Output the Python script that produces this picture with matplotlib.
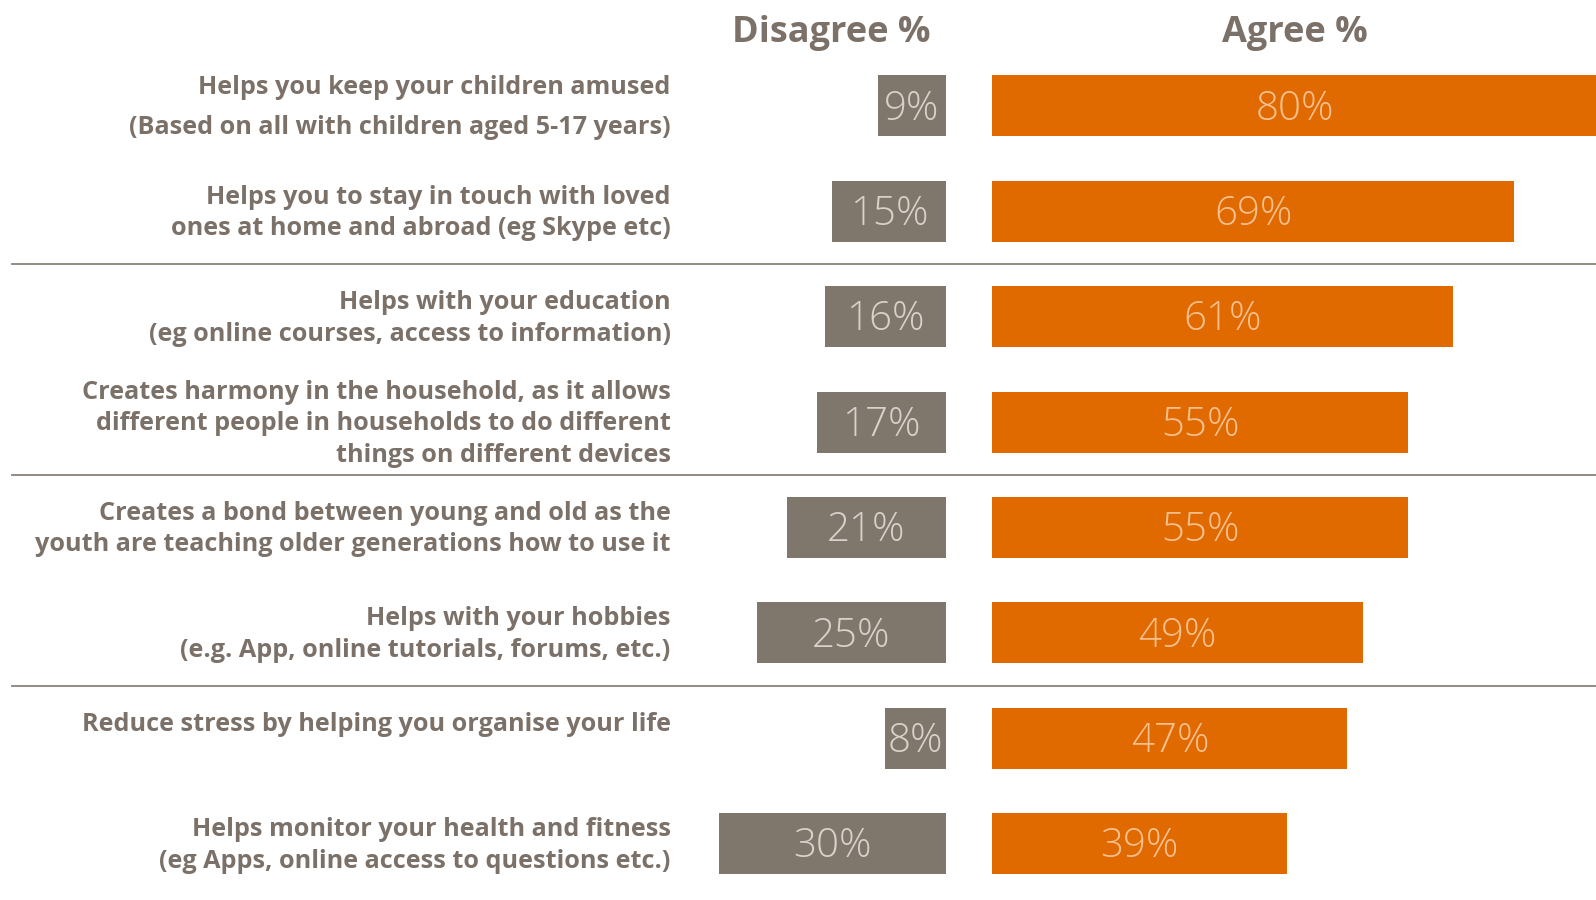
import matplotlib.pyplot as plt

# --- Survey data: share of respondents who disagree / agree ---
statements = [
    "Helps you keep your children amused\n(Based on all with children aged 5-17 years)",
    "Helps you to stay in touch with loved\nones at home and abroad (eg Skype etc)",
    "Helps with your education\n(eg online courses, access to information)",
    "Creates harmony in the household, as it allows\ndifferent people in households to do different\nthings on different devices",
    "Creates a bond between young and old as the\nyouth are teaching older generations how to use it",
    "Helps with your hobbies\n(e.g. App, online tutorials, forums, etc.)",
    "Reduce stress by helping you organise your life\n ",
    "Helps monitor your health and fitness\n(eg Apps, online access to questions etc.)",
]
disagree = [9, 15, 16, 17, 21, 25, 8, 30]
agree = [80, 69, 61, 55, 55, 49, 47, 39]

GREY = "#7f766c"
ORANGE = "#e06900"
TEXT = "#7b7168"
GAP = 6.2  # space between the two bar groups, in % units

plt.rcParams['font.family'] = ['Open Sans', 'DejaVu Sans']

fig = plt.figure(figsize=(15.96, 9), dpi=100)
ax = fig.add_axes([0, 0, 1, 1])
ax.set_xlim(-125.2, 86.1)
ax.set_ylim(7.534, -1.005)
ax.axis('off')

rows = list(range(len(statements)))
ax.barh(rows, [-d for d in disagree], height=0.58, color=GREY)
ax.barh(rows, agree, left=GAP, height=0.58, color=ORANGE)

for i, (d, a) in enumerate(zip(disagree, agree)):
    ax.text(-d / 2, i + 0.03, f"{d}%", ha='center', va='center', fontsize=29,
            fontweight='light', color="#d9d2ca")
    ax.text(GAP + a / 2, i + 0.03, f"{a}%", ha='center', va='center', fontsize=29,
            fontweight='light', color="#f6c08e")
    ax.text(-36.4, i + 0.015, statements[i], ha='right', va='center',
            multialignment='right', fontsize=18.2, fontweight='bold', color=TEXT,
            linespacing=1.82 if i == 0 else 1.34)

# group separators
for y in [1.5, 3.5, 5.5]:
    ax.plot([-123.6, 86.1], [y, y], color="#8a827a", lw=1.3)

ax.text(-15.2, -0.69, "Disagree %", ha='center', va='center', fontsize=26,
        fontweight='bold', color=TEXT)
ax.text(46.2, -0.69, "Agree %", ha='center', va='center', fontsize=26,
        fontweight='bold', color=TEXT)

plt.savefig("out.png", dpi=100)
